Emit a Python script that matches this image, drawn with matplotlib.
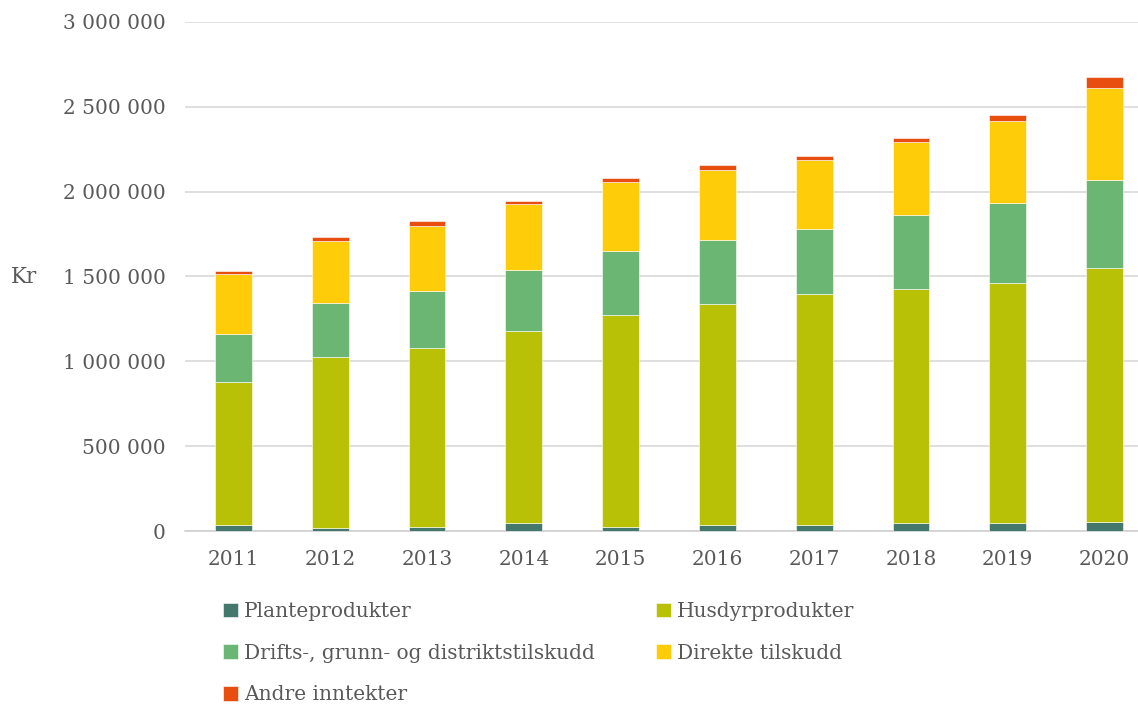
import matplotlib.pyplot as plt
import matplotlib.ticker as mticker
import numpy as np

years = ["2011", "2012", "2013", "2014", "2015", "2016", "2017", "2018", "2019", "2020"]

planteprodukter = [35000, 18000, 25000, 47000, 22000, 35000, 35000, 47000, 47000, 53000]
husdyrprodukter = [843000, 1008000, 1054000, 1132000, 1251000, 1303000, 1362000, 1379000, 1415000, 1497000]
drifts_tilskudd = [283000, 318000, 336000, 359000, 377000, 377000, 383000, 436000, 471000, 519000]
direkte_tilskudd = [354000, 365000, 383000, 389000, 407000, 413000, 407000, 431000, 484000, 542000]
andre_inntekter = [17000, 24000, 29000, 18000, 24000, 29000, 23000, 23000, 35000, 65000]

series = [
    ("Planteprodukter", planteprodukter, "#44786d"),
    ("Husdyrprodukter", husdyrprodukter, "#b8c106"),
    ("Drifts-, grunn- og distriktstilskudd", drifts_tilskudd, "#6ab672"),
    ("Direkte tilskudd", direkte_tilskudd, "#ffcc0a"),
    ("Andre inntekter", andre_inntekter, "#e84e10"),
]

TEXT = "#595959"
FONT = "DejaVu Serif"
plt.rcParams["font.family"] = FONT

fig = plt.figure(figsize=(11.38, 7.04), dpi=100)
ax = fig.add_axes([0.1626, 0.2457, 0.8374, 0.7231])

x = np.arange(len(years))
bottom = np.zeros(len(years))
handles = {}
for name, vals, color in series:
    b = ax.bar(x, vals, width=0.38, bottom=bottom, color=color,
               edgecolor="white", linewidth=0.4, label=name, zorder=3)
    handles[name] = b
    bottom += np.array(vals)

ax.set_ylim(0, 3000000)
ax.set_xlim(-0.5, 9.345)
ax.yaxis.set_major_locator(mticker.MultipleLocator(500000))
ax.yaxis.set_major_formatter(
    mticker.FuncFormatter(lambda v, p: f"{int(v):,}".replace(",", " ")))
ax.set_xticks(x)
ax.set_xticklabels(years)
ax.grid(axis="y", color="#d9d9d9", linewidth=1.2, zorder=0)
ax.tick_params(axis="both", length=0, labelsize=14.5, labelcolor=TEXT)
ax.tick_params(axis="y", pad=14)
ax.tick_params(axis="x", pad=14)
for s in ["top", "right", "left"]:
    ax.spines[s].set_visible(False)
ax.spines["bottom"].set_color("#d0d0d0")
ax.spines["bottom"].set_linewidth(1.2)

fig.text(11 / 1138, 1 - 277 / 704, "Kr", fontsize=15.5, color=TEXT,
         ha="left", va="center")

order = ["Planteprodukter", "Drifts-, grunn- og distriktstilskudd", "Andre inntekter",
         "Husdyrprodukter", "Direkte tilskudd"]
fig.legend([handles[n] for n in order], order, ncol=2,
           loc="upper left", bbox_to_anchor=(205 / 1138, 1 - 584 / 704),
           frameon=False, fontsize=14.5, labelcolor=TEXT,
           handlelength=0.75, handleheight=0.75, handletextpad=0.3,
           columnspacing=3.0, labelspacing=1.12)

fig.savefig("out.png", dpi=100)
